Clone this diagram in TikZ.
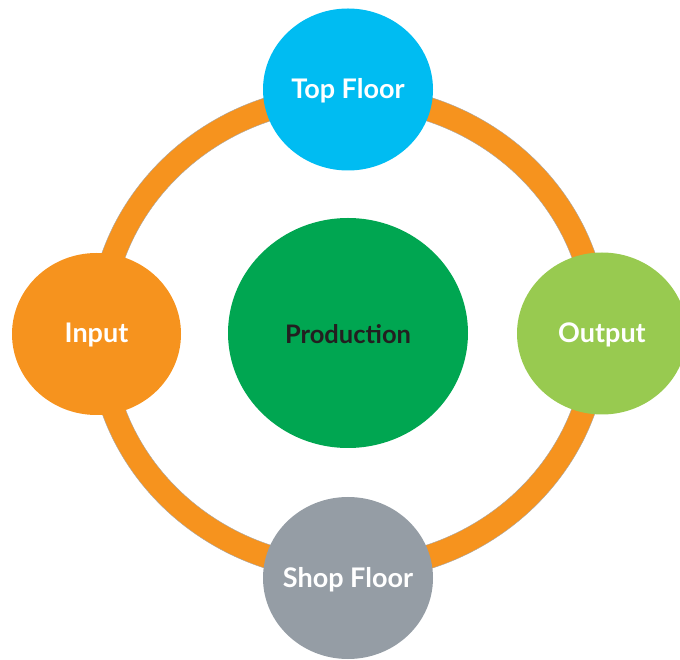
\documentclass[tikz,border=0pt]{standalone}
\usepackage{fontspec}
\setmainfont{Lato}
\usetikzlibrary{shapes.geometric}
\definecolor{ringorange}{RGB}{246,147,30}
\definecolor{topblue}{RGB}{0,188,242}
\definecolor{outgreen}{RGB}{152,202,80}
\definecolor{prodgreen}{RGB}{0,166,81}
\definecolor{shopgray}{RGB}{149,157,165}
\definecolor{darktext}{RGB}{35,31,32}
\tikzset{
  blob/.style={ellipse, inner sep=0pt, draw=none, minimum width=170pt, minimum height=162pt},
  lbl/.style={font=\fontsize{27}{30}\selectfont\bfseries, text=white, yshift=-1.5pt},
}
\begin{document}
\begin{tikzpicture}[x=1pt,y=1pt]
\useasboundingbox (0,0) rectangle (680,659);
% ring
\fill[ringorange, even odd rule, draw=gray!70, line width=0.4pt]
  (348.5,326) ellipse [x radius=260.4, y radius=248.3]
  (348.5,326) ellipse [x radius=237.1, y radius=224.5];
\node[blob, fill=topblue, label={[lbl]center:Top Floor}] (top) at (348,569.5) {};
\node[blob, fill=ringorange, minimum width=169pt, label={[lbl]center:Input}] (input) at (96.5,325) {};
\node[blob, fill=outgreen, label={[lbl]center:Output}] (output) at (602,325.5) {};
\node[blob, fill=shopgray, label={[lbl]center:Shop Floor}] (shop) at (348,81) {};
\node[blob, fill=prodgreen, minimum width=240pt, minimum height=230pt,
  label={[lbl, font=\fontsize{25.5}{28}\selectfont\bfseries, text=darktext]center:Production}] (prod) at (348,326) {};
\end{tikzpicture}
\end{document}
